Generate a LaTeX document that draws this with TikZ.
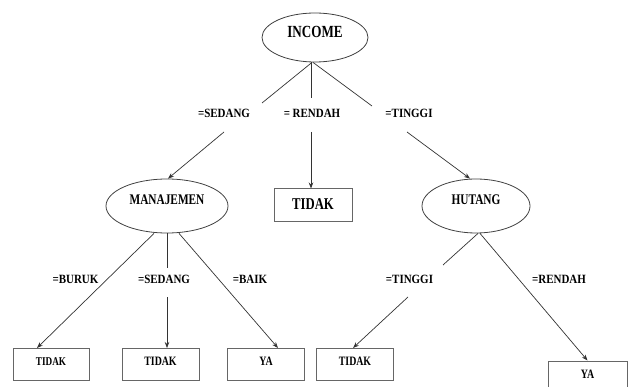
\documentclass[tikz,border=0pt]{standalone}
\usepackage{fontspec}
\setmainfont{Liberation Serif}[FakeStretch=0.77]
\newfontfamily\labfont{Liberation Serif}[FakeStretch=0.87]
\usetikzlibrary{shapes.geometric,arrows.meta}
\begin{document}
\begin{tikzpicture}[x=1pt,y=-1pt,
  oval/.style={draw=black!75, line width=0.8pt, ellipse, inner sep=0pt,
    font=\fontsize{14.7}{16}\selectfont\bfseries, text height=8pt, text depth=10pt},
  leaf/.style={draw=black!60, line width=1pt, rectangle, inner sep=0pt,
    minimum width=77pt, minimum height=32pt,
    font=\fontsize{12.8}{14}\selectfont\bfseries, text height=8.5pt, text depth=7pt},
  lab/.style={font=\labfont\fontsize{12.6}{14}\selectfont\bfseries, inner sep=0pt},
  conn/.style={draw=black!80, line width=0.7pt},
  arr/.style={conn, -{Stealth[length=6pt,width=4.5pt]}}
]
\useasboundingbox (0,0) rectangle (634,387);
\clip (0,0) rectangle (634,387);

% decision nodes
\node[oval, minimum width=106pt, minimum height=49pt,
  font=\fontsize{17}{19}\selectfont\bfseries, text height=9pt, text depth=9.4pt]
  (income) at (315,37.5) {INCOME};
\node[oval, minimum width=122pt, minimum height=54pt] (manaj) at (167,206) {MANAJEMEN};
\node[oval, minimum width=108pt, minimum height=54pt] (hutang) at (476,206) {HUTANG};

% leaves
\node[leaf, minimum width=78pt, minimum height=33pt,
  font=\fontsize{16.5}{18}\selectfont\bfseries, text height=11pt, text depth=3pt]
  (t1) at (313,205.5) {TIDAK};
\node[leaf, minimum width=76pt, font=\fontsize{11.9}{13}\selectfont\bfseries,
  text height=9pt, text depth=8pt] (t2) at (51,364.5) {TIDAK};
\node[leaf] (t3) at (160.5,364.5) {TIDAK};
\node[leaf] (ya1) at (266,364.5) {YA};
\node[leaf] (t4) at (355,364.5) {TIDAK};
\node[leaf, minimum width=79pt, minimum height=33pt] (ya2) at (587.5,377.5) {YA};

% branch labels
\node[lab] (l1) at (224,113) {=SEDANG};
\node[lab] (l2) at (312,113) {= RENDAH};
\node[lab] (l3) at (409,113) {=TINGGI};
\node[lab] (l4) at (75.5,279) {=BURUK};
\node[lab] (l5) at (164,279) {=SEDANG};
\node[lab] (l6) at (250,279) {=BAIK};
\node[lab] (l7) at (409.5,279) {=TINGGI};
\node[lab] (l8) at (559,279) {=RENDAH};

% break points of interrupted connectors
\coordinate (a1) at (262,103);
\coordinate (b1) at (224,132);
\coordinate (a2) at (311,98);
\coordinate (b2) at (311,132);
\coordinate (a3) at (372,106);
\coordinate (b3) at (407,132);
\coordinate (a5) at (167,268);
\coordinate (b5) at (167,297);
\coordinate (a7) at (443,265);
\coordinate (b7) at (408,297);

% connectors
\draw[conn] ([xshift=-3pt]income.south) -- (a1);
\draw[arr] (b1) -- ([xshift=1pt]manaj.north);
\draw[conn] ([xshift=-4pt]income.south) -- (a2);
\draw[arr] (b2) -- ([xshift=-2pt]t1.north);
\draw[conn] ([xshift=-2pt]income.south) -- (a3);
\draw[arr] (b3) -- ([xshift=-6pt]hutang.north);

\draw[arr] ([xshift=-13pt]manaj.south) -- ([xshift=-14pt]t2.north);
\draw[conn] (manaj.south) -- (a5);
\draw[arr] (b5) -- ([xshift=6.5pt]t3.north);
\draw[arr] ([xshift=12pt]manaj.south) -- ([xshift=12pt]ya1.north);

\draw[conn] ([xshift=2pt]hutang.south) -- (a7);
\draw[arr] (b7) -- ([xshift=-2pt]t4.north);
\draw[arr] ([xshift=4pt]hutang.south) -- (ya2.north);
\end{tikzpicture}
\end{document}
